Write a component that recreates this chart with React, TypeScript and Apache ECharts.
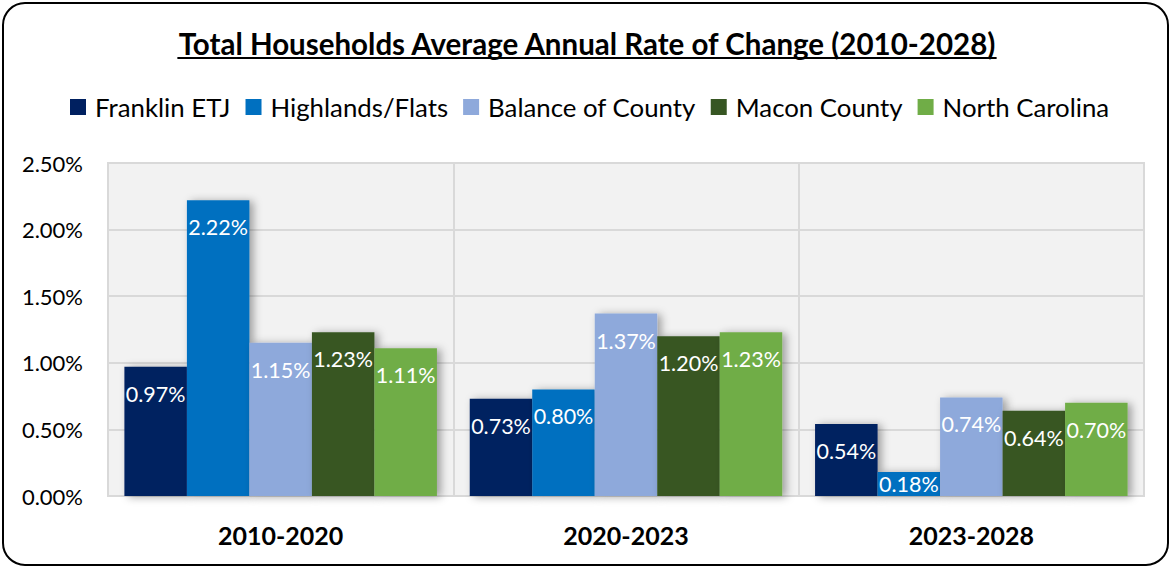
import React, { useEffect, useRef } from 'react';
import * as echarts from 'echarts';

const categories = ['2010-2020', '2020-2023', '2023-2028'];
const seriesNames = ['Franklin ETJ', 'Highlands/Flats', 'Balance of County', 'Macon County', 'North Carolina'];
const franklinEtj = [0.97, 0.73, 0.54];
const highlandsFlats = [2.22, 0.8, 0.18];
const balanceOfCounty = [1.15, 1.37, 0.74];
const maconCounty = [1.23, 1.2, 0.64];
const northCarolina = [1.11, 1.23, 0.7];
const seriesValues = [franklinEtj, highlandsFlats, balanceOfCounty, maconCounty, northCarolina];
const yMin = 0;
const yMax = 2.5;
const yInterval = 0.5;
const colors = ['#002060', '#0070C0', '#8EA9DB', '#375623', '#70AD47'];
const titleText = 'Total Households Average Annual Rate of Change (2010-2028)';

const FONT = 'Lato, "Open Sans", sans-serif';
const W = 1171;
const H = 569;

function measure(text: string, font: string): number {
  const c = document.createElement('canvas');
  const ctx = c.getContext('2d');
  if (!ctx) return 0;
  ctx.font = font;
  return ctx.measureText(text).width;
}

export default function App() {
  const ref = useRef<HTMLDivElement>(null);
  useEffect(() => {
    if (!ref.current) return;
    const chart = echarts.init(ref.current, undefined, { renderer: 'svg' });
    const titleSize = 29.5;
    const titleFont = `bold ${titleSize}px Lato`;
    const titleW = measure(titleText, titleFont);
    const titleCx = 587;
    const titleY = 43;

    const series = seriesNames.map((name, i) => ({
      name,
      type: 'bar',
      barGap: '0%',
      barCategoryGap: '9.5%',
      itemStyle: {
        color: colors[i],
        shadowColor: 'rgba(0,0,0,0.35)',
        shadowBlur: 8,
        shadowOffsetX: 4,
        shadowOffsetY: 1,
      },
      label: {
        show: true,
        position: 'insideTop',
        distance: 16,
        color: '#ffffff',
        fontFamily: FONT,
        fontSize: 21.5,
        formatter: (p: any) => Number(p.value).toFixed(2) + '%',
      },
      data: seriesValues[i].map((v) =>
        v < 0.3 ? { value: v, label: { position: 'inside' } } : { value: v }
      ),
    }));

    chart.setOption({
      animation: false,
      backgroundColor: '#ffffff',
      textStyle: { fontFamily: FONT },
      grid: {
        left: 108,
        right: W - 1144,
        top: 163,
        bottom: H - 496,
        show: true,
        backgroundColor: '#f2f2f2',
        borderColor: '#d9d9d9',
        borderWidth: 2,
      },
      legend: {
        top: 89,
        left: 65,
        icon: 'rect',
        itemWidth: 16,
        itemHeight: 16,
        itemGap: 15,
        textStyle: { fontFamily: FONT, fontSize: 25.8, color: '#000000', padding: [0, 0, 0, 4] },
        data: seriesNames,
      },
      xAxis: {
        type: 'category',
        data: categories,
        axisTick: { show: false },
        axisLine: { show: true, lineStyle: { color: '#d9d9d9', width: 2 } },
        axisLabel: { fontFamily: FONT, fontSize: 25, fontWeight: 'bold', color: '#000000', margin: 26 },
        splitLine: { show: true, lineStyle: { color: '#d9d9d9', width: 2 } },
      },
      yAxis: {
        type: 'value',
        min: yMin,
        max: yMax,
        interval: yInterval,
        axisLine: { show: false },
        axisTick: { show: false },
        axisLabel: {
          fontFamily: FONT,
          fontSize: 22,
          color: '#000000',
          margin: 25,
          formatter: (v: number) => v.toFixed(2) + '%',
        },
        splitLine: { show: true, lineStyle: { color: '#d9d9d9', width: 2 } },
      },
      graphic: [
        {
          type: 'rect',
          shape: { x: 3, y: 3, width: 1165, height: 562, r: 22 },
          style: { fill: 'none', stroke: '#000000', lineWidth: 2 },
          silent: true,
          z: 100,
        },
        {
          type: 'text',
          x: titleCx,
          y: titleY,
          style: {
            text: titleText,
            font: titleFont,
            fill: '#000000',
            align: 'center',
            verticalAlign: 'middle',
          },
          z: 100,
        },
        {
          type: 'line',
          shape: { x1: titleCx - titleW / 2, y1: 58, x2: titleCx + titleW / 2, y2: 58 },
          style: { stroke: '#000000', lineWidth: 2 },
          z: 100,
        },
      ],
      series,
    });
    return () => chart.dispose();
  }, []);
  return <div ref={ref} style={{ position: 'absolute', left: 0, top: 0, width: W, height: H }} />;
}
